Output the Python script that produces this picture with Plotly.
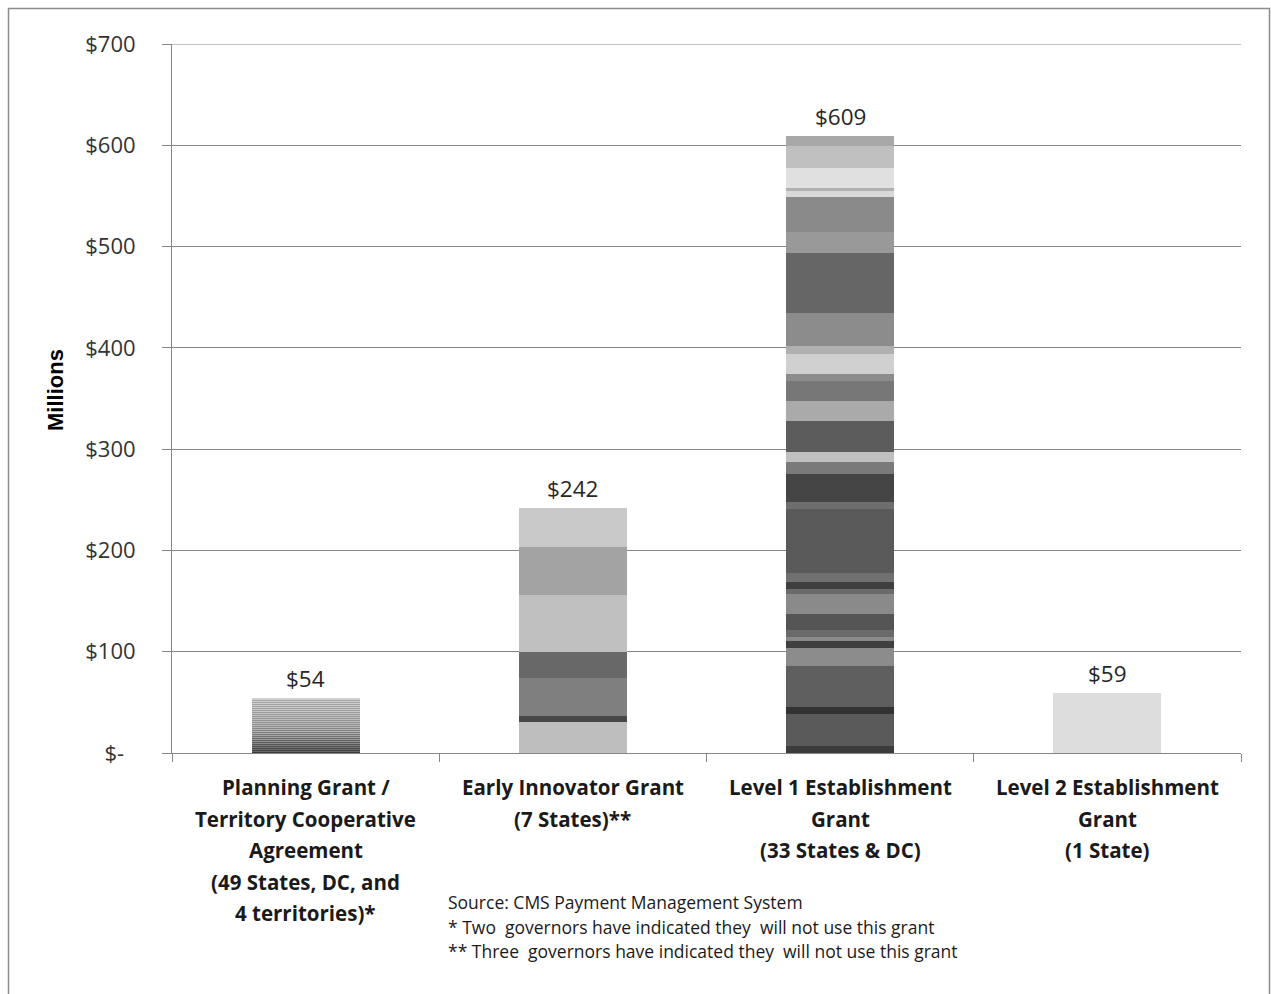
import plotly.graph_objects as go

# Grant programmes (x categories) and their wrapped axis labels
categories = [
    "Planning Grant / Territory Cooperative Agreement",
    "Early Innovator Grant",
    "Level 1 Establishment Grant",
    "Level 2 Establishment Grant",
]
category_lines = [
    ["Planning Grant /", "Territory Cooperative", "Agreement", "(49 States, DC, and", "4 territories)*"],
    ["Early Innovator Grant", "(7 States)**"],
    ["Level 1 Establishment", "Grant", "(33 States & DC)"],
    ["Level 2 Establishment", "Grant", "(1 State)"],
]

# Award amounts ($ millions), one entry per grantee, stacked bottom to top
planning_awards = [
    1.0, 1.0, 1.0, 1.0, 1.0, 1.0, 1.0, 1.0, 1.0, 1.0,
    1.0, 1.0, 1.0, 1.0, 1.0, 1.0, 1.0, 1.0, 1.0, 1.0,
    1.0, 1.0, 1.0, 1.0, 1.0, 1.0, 1.0, 1.0, 1.0, 1.0,
    1.0, 1.0, 1.0, 1.0, 1.0, 1.0, 1.0, 1.0, 1.0, 1.0,
    1.0, 1.0, 1.0, 1.0, 1.0, 1.0, 1.0, 1.0, 1.0, 1.0,
    1.0, 1.0, 1.0, 1.0,
]
early_innovator_awards = [31.0, 6.0, 37.0, 26.0, 56.0, 47.0, 39.0]
level1_awards = [
    7.2, 31.3, 7.2, 40.5, 17.2, 7.5, 3.3, 7.2, 15.5, 20.1,
    4.9, 7.2, 8.3, 63.5, 6.6, 27.9, 12.2, 9.9, 30.3, 19.7,
    19.8, 6.6, 19.7, 8.2, 32.9, 58.6, 21.4, 33.9, 6.4, 2.5,
    19.9, 21.9, 9.7,
]
level2_awards = [59.0]

# Y axis ticks
y_tickvals = [0, 100, 200, 300, 400, 500, 600, 700]
y_ticktext = ["$-\u00a0\u00a0", "$100", "$200", "$300", "$400", "$500", "$600", "$700"]

source_lines = [
    "Source: CMS Payment Management System",
    "* Two  governors have indicated they  will not use this grant",
    "** Three  governors have indicated they  will not use this grant",
]

# Segment shades (bottom to top)
planning_shades = [
    "#3a3a3a", "#6a6a6a", "#404040", "#707070", "#464646", "#787878", "#4e4e4e", "#808080", "#555555", "#888888",
    "#5c5c5c", "#909090", "#646464", "#989898", "#6c6c6c", "#a0a0a0", "#747474", "#a6a6a6", "#7a7a7a", "#acacac",
    "#808080", "#b0b0b0", "#848484", "#b4b4b4", "#888888", "#b8b8b8", "#8c8c8c", "#bababa", "#8e8e8e", "#bcbcbc",
    "#909090", "#bebebe", "#929292", "#c0c0c0", "#949494", "#c2c2c2", "#969696", "#c4c4c4", "#989898", "#c6c6c6",
    "#9a9a9a", "#c8c8c8", "#9c9c9c", "#cacaca", "#9e9e9e", "#cccccc", "#a0a0a0", "#cdcdcd", "#a2a2a2", "#cecece",
    "#a4a4a4", "#cfcfcf", "#a6a6a6", "#d0d0d0",
]
early_innovator_shades = ["#bebebe", "#474747", "#7f7f7f", "#686868", "#c0c0c0", "#a3a3a3", "#c9c9c9"]
level1_shades = [
    "#3c3c3c", "#5a5a5a", "#333333", "#5f5f5f", "#8c8c8c", "#3f3f3f", "#8a8a8a", "#6a6a6a", "#555555", "#8a8a8a",
    "#6a6a6a", "#3f3f3f", "#707070", "#5a5a5a", "#6e6e6e", "#454545", "#7a7a7a", "#c0c0c0", "#5c5c5c", "#aaaaaa",
    "#777777", "#8c8c8c", "#d0d0d0", "#b0b0b0", "#8c8c8c", "#666666", "#999999", "#8a8a8a", "#d8d8d8", "#b0b0b0",
    "#e0e0e0", "#c0c0c0", "#a8a8a8",
]
level2_shades = ["#dddddd"]

all_awards = [planning_awards, early_innovator_awards, level1_awards, level2_awards]
all_shades = [planning_shades, early_innovator_shades, level1_shades, level2_shades]

BODY_FONT = "'Open Sans', Lato, sans-serif"
AXIS_GRAY = "#868686"

fig = go.Figure()
for cat, awards, shades in zip(categories, all_awards, all_shades):
    for amount, shade in zip(awards, shades):
        fig.add_trace(go.Bar(
            x=[cat], y=[amount], width=0.405,
            marker=dict(color=shade, line=dict(width=0)),
            showlegend=False, hoverinfo="skip",
        ))

annotations = []
# Totals above each bar
for cat, awards in zip(categories, all_awards):
    total = sum(awards)
    annotations.append(dict(
        x=cat, y=total, xref="x", yref="y", text=f"${total:.0f}",
        showarrow=False, yanchor="bottom", yshift=2,
        font=dict(family=BODY_FONT, size=22.5, color="#262626"),
    ))

# Wrapped category labels under the axis
for cat, lines in zip(categories, category_lines):
    for j, line in enumerate(lines):
        annotations.append(dict(
            x=cat, y=0, xref="x", yref="y", text=f"<b>{line}</b>",
            showarrow=False, yanchor="middle", yshift=-(34 + 31.5 * j),
            font=dict(family=BODY_FONT, size=20.5, color="#1a1a1a"),
        ))

# Source and footnotes
for j, line in enumerate(source_lines):
    annotations.append(dict(
        x=(446 - 172) / 1069, y=0, xref="paper", yref="paper", text=line,
        showarrow=False, xanchor="left", yanchor="middle", yshift=-(149 + 24.5 * j),
        font=dict(family=BODY_FONT, size=17.5, color="#1a1a1a"),
    ))

# Y axis title
annotations.append(dict(
    x=(55 - 172) / 1069, y=(753 - 390) / 709, xref="paper", yref="paper",
    text="<b>Millions</b>", textangle=-90, showarrow=False,
    xanchor="center", yanchor="middle",
    font=dict(family="'Liberation Sans', Arial, sans-serif", size=22, color="#000000"),
))

fig.update_layout(
    width=1271, height=994,
    margin=dict(l=172, r=30, t=44, b=241),
    barmode="stack",
    bargap=0.6,
    paper_bgcolor="white",
    plot_bgcolor="white",
    annotations=annotations,
    shapes=[
        # chart frame
        dict(
            type="rect", xref="paper", yref="paper",
            x0=(8.5 - 172) / 1069, x1=(1269.5 - 172) / 1069,
            y0=(753 - 1060) / 709, y1=(753 - 8.5) / 709,
            line=dict(color="#8c8c8c", width=1.5), fillcolor="rgba(0,0,0,0)", layer="below",
        ),
        # gridline at the top of the value range
        dict(
            type="line", xref="paper", yref="y", x0=0, x1=1, y0=700, y1=700,
            line=dict(color=AXIS_GRAY, width=1), layer="below",
        ),
    ],
    xaxis=dict(
        type="category", categoryorder="array", categoryarray=categories,
        tickson="boundaries", ticks="outside", ticklen=8, tickcolor=AXIS_GRAY,
        showticklabels=False, showline=True, linecolor=AXIS_GRAY, linewidth=1,
        showgrid=False, zeroline=False,
    ),
    yaxis=dict(
        range=[0, 700], tickvals=y_tickvals, ticktext=y_ticktext,
        ticks="outside", ticklen=9, tickcolor=AXIS_GRAY,
        showline=True, linecolor=AXIS_GRAY, linewidth=1,
        showgrid=True, gridcolor=AXIS_GRAY, gridwidth=1, zeroline=False,
        ticklabelstandoff=22,
        tickfont=dict(family=BODY_FONT, size=22, color="#333333"),
    ),
)

fig.write_html("out.html")
